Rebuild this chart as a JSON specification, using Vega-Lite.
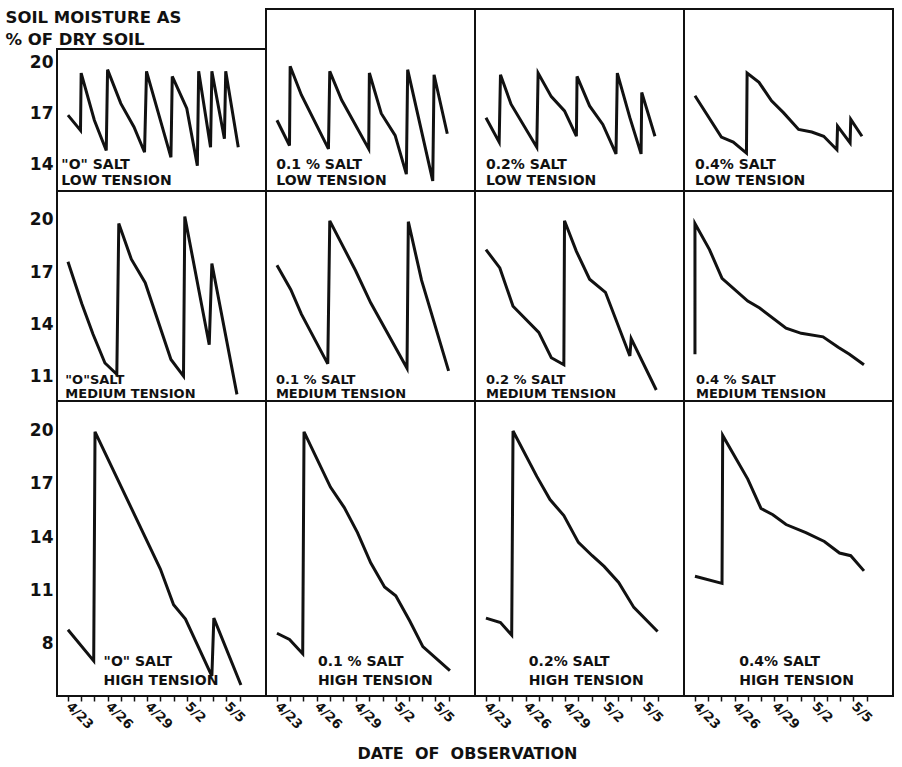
{
  "$schema": "https://vega.github.io/schema/vega-lite/v6.json",
  "padding": {"left": 5, "top": 8, "right": 4, "bottom": 2},
  "background": "white",
  "config": {
    "view": {"stroke": "#111", "strokeWidth": 2},
    "font": "DejaVu Sans",
    "line": {"strokeWidth": 3, "color": "#111"},
    "text": {"font": "DejaVu Sans", "fontWeight": "bold", "fontSize": 14, "color": "#111"},
    "axis": {"labelFont": "DejaVu Sans", "labelFontWeight": "bold", "labelColor": "#111", "grid": false, "domain": false, "ticks": false,
             "labelOverlap": false, "labelFlush": false, "labelBound": false}
  },
  "title": {"text": "DATE\u00a0\u00a0OF\u00a0\u00a0OBSERVATION", "orient": "bottom", "anchor": "middle", "frame": "bounds", "dx": 18, "fontSize": 16, "fontWeight": "bold", "font": "DejaVu Sans", "color": "#111", "offset": 14},
  "datasets": {
    "moisture": [
      {"salt": "0", "tension": "low", "seq": 1, "day": 0, "moisture": 16.9},
      {"salt": "0", "tension": "low", "seq": 2, "day": 0.95, "moisture": 16.0},
      {"salt": "0", "tension": "low", "seq": 3, "day": 1.0, "moisture": 19.4},
      {"salt": "0", "tension": "low", "seq": 4, "day": 2.0, "moisture": 16.6},
      {"salt": "0", "tension": "low", "seq": 5, "day": 2.9, "moisture": 14.8},
      {"salt": "0", "tension": "low", "seq": 6, "day": 3.0, "moisture": 19.6},
      {"salt": "0", "tension": "low", "seq": 7, "day": 4.0, "moisture": 17.6},
      {"salt": "0", "tension": "low", "seq": 8, "day": 5.0, "moisture": 16.2},
      {"salt": "0", "tension": "low", "seq": 9, "day": 5.8, "moisture": 14.7},
      {"salt": "0", "tension": "low", "seq": 10, "day": 5.95, "moisture": 19.5},
      {"salt": "0", "tension": "low", "seq": 11, "day": 7.8, "moisture": 14.4},
      {"salt": "0", "tension": "low", "seq": 12, "day": 7.9, "moisture": 19.2},
      {"salt": "0", "tension": "low", "seq": 13, "day": 9.0, "moisture": 17.3},
      {"salt": "0", "tension": "low", "seq": 14, "day": 9.8, "moisture": 13.9},
      {"salt": "0", "tension": "low", "seq": 15, "day": 9.9, "moisture": 19.5},
      {"salt": "0", "tension": "low", "seq": 16, "day": 10.8, "moisture": 15.0},
      {"salt": "0", "tension": "low", "seq": 17, "day": 10.9, "moisture": 19.5},
      {"salt": "0", "tension": "low", "seq": 18, "day": 11.85, "moisture": 15.5},
      {"salt": "0", "tension": "low", "seq": 19, "day": 11.95, "moisture": 19.5},
      {"salt": "0", "tension": "low", "seq": 20, "day": 12.9, "moisture": 15.0},

      {"salt": "0.1", "tension": "low", "seq": 1, "day": 0, "moisture": 16.6},
      {"salt": "0.1", "tension": "low", "seq": 2, "day": 0.95, "moisture": 15.1},
      {"salt": "0.1", "tension": "low", "seq": 3, "day": 1.0, "moisture": 19.8},
      {"salt": "0.1", "tension": "low", "seq": 4, "day": 1.85, "moisture": 18.1},
      {"salt": "0.1", "tension": "low", "seq": 5, "day": 3.9, "moisture": 14.9},
      {"salt": "0.1", "tension": "low", "seq": 6, "day": 4.0, "moisture": 19.5},
      {"salt": "0.1", "tension": "low", "seq": 7, "day": 4.9, "moisture": 17.8},
      {"salt": "0.1", "tension": "low", "seq": 8, "day": 6.95, "moisture": 14.9},
      {"salt": "0.1", "tension": "low", "seq": 9, "day": 7.0, "moisture": 19.4},
      {"salt": "0.1", "tension": "low", "seq": 10, "day": 7.9, "moisture": 17.0},
      {"salt": "0.1", "tension": "low", "seq": 11, "day": 8.95, "moisture": 15.7},
      {"salt": "0.1", "tension": "low", "seq": 12, "day": 9.8, "moisture": 13.4},
      {"salt": "0.1", "tension": "low", "seq": 13, "day": 9.9, "moisture": 19.6},
      {"salt": "0.1", "tension": "low", "seq": 14, "day": 11.8, "moisture": 13.0},
      {"salt": "0.1", "tension": "low", "seq": 15, "day": 11.9, "moisture": 19.3},
      {"salt": "0.1", "tension": "low", "seq": 16, "day": 12.9, "moisture": 15.8},

      {"salt": "0.2", "tension": "low", "seq": 1, "day": 0, "moisture": 16.75},
      {"salt": "0.2", "tension": "low", "seq": 2, "day": 1.0, "moisture": 15.3},
      {"salt": "0.2", "tension": "low", "seq": 3, "day": 1.1, "moisture": 19.3},
      {"salt": "0.2", "tension": "low", "seq": 4, "day": 1.9, "moisture": 17.55},
      {"salt": "0.2", "tension": "low", "seq": 5, "day": 3.85, "moisture": 15.0},
      {"salt": "0.2", "tension": "low", "seq": 6, "day": 3.95, "moisture": 19.4},
      {"salt": "0.2", "tension": "low", "seq": 7, "day": 4.95, "moisture": 18.0},
      {"salt": "0.2", "tension": "low", "seq": 8, "day": 5.95, "moisture": 17.15},
      {"salt": "0.2", "tension": "low", "seq": 9, "day": 6.85, "moisture": 15.65},
      {"salt": "0.2", "tension": "low", "seq": 10, "day": 6.9, "moisture": 19.2},
      {"salt": "0.2", "tension": "low", "seq": 11, "day": 7.85, "moisture": 17.45},
      {"salt": "0.2", "tension": "low", "seq": 12, "day": 8.85, "moisture": 16.35},
      {"salt": "0.2", "tension": "low", "seq": 13, "day": 9.85, "moisture": 14.6},
      {"salt": "0.2", "tension": "low", "seq": 14, "day": 9.95, "moisture": 19.4},
      {"salt": "0.2", "tension": "low", "seq": 15, "day": 10.9, "moisture": 16.75},
      {"salt": "0.2", "tension": "low", "seq": 16, "day": 11.75, "moisture": 14.6},
      {"salt": "0.2", "tension": "low", "seq": 17, "day": 11.8, "moisture": 18.25},
      {"salt": "0.2", "tension": "low", "seq": 18, "day": 12.8, "moisture": 15.65},

      {"salt": "0.4", "tension": "low", "seq": 1, "day": 0, "moisture": 18.05},
      {"salt": "0.4", "tension": "low", "seq": 2, "day": 2.0, "moisture": 15.6},
      {"salt": "0.4", "tension": "low", "seq": 3, "day": 2.9, "moisture": 15.3},
      {"salt": "0.4", "tension": "low", "seq": 4, "day": 3.9, "moisture": 14.65},
      {"salt": "0.4", "tension": "low", "seq": 5, "day": 3.95, "moisture": 19.4},
      {"salt": "0.4", "tension": "low", "seq": 6, "day": 4.85, "moisture": 18.85},
      {"salt": "0.4", "tension": "low", "seq": 7, "day": 5.8, "moisture": 17.75},
      {"salt": "0.4", "tension": "low", "seq": 8, "day": 6.7, "moisture": 17.05},
      {"salt": "0.4", "tension": "low", "seq": 9, "day": 7.85, "moisture": 16.05},
      {"salt": "0.4", "tension": "low", "seq": 10, "day": 8.85, "moisture": 15.9},
      {"salt": "0.4", "tension": "low", "seq": 11, "day": 9.75, "moisture": 15.65},
      {"salt": "0.4", "tension": "low", "seq": 12, "day": 10.75, "moisture": 14.85},
      {"salt": "0.4", "tension": "low", "seq": 13, "day": 10.8, "moisture": 16.25},
      {"salt": "0.4", "tension": "low", "seq": 14, "day": 11.75, "moisture": 15.25},
      {"salt": "0.4", "tension": "low", "seq": 15, "day": 11.8, "moisture": 16.65},
      {"salt": "0.4", "tension": "low", "seq": 16, "day": 12.65, "moisture": 15.65},

      {"salt": "0", "tension": "medium", "seq": 1, "day": 0, "moisture": 17.6},
      {"salt": "0", "tension": "medium", "seq": 2, "day": 1.05, "moisture": 15.2},
      {"salt": "0", "tension": "medium", "seq": 3, "day": 1.9, "moisture": 13.45},
      {"salt": "0", "tension": "medium", "seq": 4, "day": 2.8, "moisture": 11.8},
      {"salt": "0", "tension": "medium", "seq": 5, "day": 3.7, "moisture": 11.15},
      {"salt": "0", "tension": "medium", "seq": 6, "day": 3.85, "moisture": 19.8},
      {"salt": "0", "tension": "medium", "seq": 7, "day": 4.8, "moisture": 17.75},
      {"salt": "0", "tension": "medium", "seq": 8, "day": 5.85, "moisture": 16.4},
      {"salt": "0", "tension": "medium", "seq": 9, "day": 7.8, "moisture": 12.0},
      {"salt": "0", "tension": "medium", "seq": 10, "day": 8.75, "moisture": 11.05},
      {"salt": "0", "tension": "medium", "seq": 11, "day": 8.85, "moisture": 20.2},
      {"salt": "0", "tension": "medium", "seq": 12, "day": 10.7, "moisture": 12.85},
      {"salt": "0", "tension": "medium", "seq": 13, "day": 10.9, "moisture": 17.5},
      {"salt": "0", "tension": "medium", "seq": 14, "day": 12.8, "moisture": 10.0},

      {"salt": "0.1", "tension": "medium", "seq": 1, "day": 0, "moisture": 17.4},
      {"salt": "0.1", "tension": "medium", "seq": 2, "day": 1.05, "moisture": 16.0},
      {"salt": "0.1", "tension": "medium", "seq": 3, "day": 1.85, "moisture": 14.6},
      {"salt": "0.1", "tension": "medium", "seq": 4, "day": 3.85, "moisture": 11.75},
      {"salt": "0.1", "tension": "medium", "seq": 5, "day": 4.0, "moisture": 19.95},
      {"salt": "0.1", "tension": "medium", "seq": 6, "day": 5.95, "moisture": 17.1},
      {"salt": "0.1", "tension": "medium", "seq": 7, "day": 7.1, "moisture": 15.25},
      {"salt": "0.1", "tension": "medium", "seq": 8, "day": 9.85, "moisture": 11.5},
      {"salt": "0.1", "tension": "medium", "seq": 9, "day": 9.95, "moisture": 19.9},
      {"salt": "0.1", "tension": "medium", "seq": 10, "day": 10.95, "moisture": 16.55},
      {"salt": "0.1", "tension": "medium", "seq": 11, "day": 13.0, "moisture": 11.35},

      {"salt": "0.2", "tension": "medium", "seq": 1, "day": 0, "moisture": 18.3},
      {"salt": "0.2", "tension": "medium", "seq": 2, "day": 1.05, "moisture": 17.25},
      {"salt": "0.2", "tension": "medium", "seq": 3, "day": 2.05, "moisture": 15.05},
      {"salt": "0.2", "tension": "medium", "seq": 4, "day": 4.0, "moisture": 13.55},
      {"salt": "0.2", "tension": "medium", "seq": 5, "day": 4.95, "moisture": 12.1},
      {"salt": "0.2", "tension": "medium", "seq": 6, "day": 5.9, "moisture": 11.7},
      {"salt": "0.2", "tension": "medium", "seq": 7, "day": 5.95, "moisture": 19.95},
      {"salt": "0.2", "tension": "medium", "seq": 8, "day": 6.85, "moisture": 18.2},
      {"salt": "0.2", "tension": "medium", "seq": 9, "day": 7.85, "moisture": 16.6},
      {"salt": "0.2", "tension": "medium", "seq": 10, "day": 9.05, "moisture": 15.85},
      {"salt": "0.2", "tension": "medium", "seq": 11, "day": 10.9, "moisture": 12.2},
      {"salt": "0.2", "tension": "medium", "seq": 12, "day": 11.0, "moisture": 13.2},
      {"salt": "0.2", "tension": "medium", "seq": 13, "day": 12.9, "moisture": 10.25},

      {"salt": "0.4", "tension": "medium", "seq": 1, "day": 0, "moisture": 12.3},
      {"salt": "0.4", "tension": "medium", "seq": 2, "day": 0, "moisture": 19.8},
      {"salt": "0.4", "tension": "medium", "seq": 3, "day": 1.1, "moisture": 18.3},
      {"salt": "0.4", "tension": "medium", "seq": 4, "day": 2.05, "moisture": 16.65},
      {"salt": "0.4", "tension": "medium", "seq": 5, "day": 4.0, "moisture": 15.35},
      {"salt": "0.4", "tension": "medium", "seq": 6, "day": 4.9, "moisture": 14.95},
      {"salt": "0.4", "tension": "medium", "seq": 7, "day": 6.9, "moisture": 13.8},
      {"salt": "0.4", "tension": "medium", "seq": 8, "day": 8.05, "moisture": 13.5},
      {"salt": "0.4", "tension": "medium", "seq": 9, "day": 9.7, "moisture": 13.3},
      {"salt": "0.4", "tension": "medium", "seq": 10, "day": 10.85, "moisture": 12.7},
      {"salt": "0.4", "tension": "medium", "seq": 11, "day": 11.7, "moisture": 12.3},
      {"salt": "0.4", "tension": "medium", "seq": 12, "day": 12.8, "moisture": 11.7},

      {"salt": "0", "tension": "high", "seq": 1, "day": 0, "moisture": 8.8},
      {"salt": "0", "tension": "high", "seq": 2, "day": 1.95, "moisture": 7.05},
      {"salt": "0", "tension": "high", "seq": 3, "day": 2.05, "moisture": 19.9},
      {"salt": "0", "tension": "high", "seq": 4, "day": 7.0, "moisture": 12.2},
      {"salt": "0", "tension": "high", "seq": 5, "day": 8.0, "moisture": 10.2},
      {"salt": "0", "tension": "high", "seq": 6, "day": 8.9, "moisture": 9.4},
      {"salt": "0", "tension": "high", "seq": 7, "day": 10.9, "moisture": 6.2},
      {"salt": "0", "tension": "high", "seq": 8, "day": 11.05, "moisture": 9.45},
      {"salt": "0", "tension": "high", "seq": 9, "day": 13.1, "moisture": 5.7},

      {"salt": "0.1", "tension": "high", "seq": 1, "day": 0, "moisture": 8.6},
      {"salt": "0.1", "tension": "high", "seq": 2, "day": 0.95, "moisture": 8.25},
      {"salt": "0.1", "tension": "high", "seq": 3, "day": 1.95, "moisture": 7.45},
      {"salt": "0.1", "tension": "high", "seq": 4, "day": 2.05, "moisture": 19.9},
      {"salt": "0.1", "tension": "high", "seq": 5, "day": 4.05, "moisture": 16.8},
      {"salt": "0.1", "tension": "high", "seq": 6, "day": 5.1, "moisture": 15.65},
      {"salt": "0.1", "tension": "high", "seq": 7, "day": 6.1, "moisture": 14.25},
      {"salt": "0.1", "tension": "high", "seq": 8, "day": 7.1, "moisture": 12.55},
      {"salt": "0.1", "tension": "high", "seq": 9, "day": 8.15, "moisture": 11.2},
      {"salt": "0.1", "tension": "high", "seq": 10, "day": 9.0, "moisture": 10.7},
      {"salt": "0.1", "tension": "high", "seq": 11, "day": 10.05, "moisture": 9.3},
      {"salt": "0.1", "tension": "high", "seq": 12, "day": 11.05, "moisture": 7.85},
      {"salt": "0.1", "tension": "high", "seq": 13, "day": 13.1, "moisture": 6.5},

      {"salt": "0.2", "tension": "high", "seq": 1, "day": 0, "moisture": 9.45},
      {"salt": "0.2", "tension": "high", "seq": 2, "day": 1.1, "moisture": 9.2},
      {"salt": "0.2", "tension": "high", "seq": 3, "day": 1.95, "moisture": 8.5},
      {"salt": "0.2", "tension": "high", "seq": 4, "day": 2.05, "moisture": 19.95},
      {"salt": "0.2", "tension": "high", "seq": 5, "day": 3.85, "moisture": 17.4},
      {"salt": "0.2", "tension": "high", "seq": 6, "day": 4.85, "moisture": 16.1},
      {"salt": "0.2", "tension": "high", "seq": 7, "day": 5.9, "moisture": 15.2},
      {"salt": "0.2", "tension": "high", "seq": 8, "day": 7.0, "moisture": 13.7},
      {"salt": "0.2", "tension": "high", "seq": 9, "day": 8.05, "moisture": 12.95},
      {"salt": "0.2", "tension": "high", "seq": 10, "day": 8.95, "moisture": 12.35},
      {"salt": "0.2", "tension": "high", "seq": 11, "day": 10.05, "moisture": 11.45},
      {"salt": "0.2", "tension": "high", "seq": 12, "day": 11.2, "moisture": 10.05},
      {"salt": "0.2", "tension": "high", "seq": 13, "day": 13.0, "moisture": 8.7},

      {"salt": "0.4", "tension": "high", "seq": 1, "day": 0, "moisture": 11.8},
      {"salt": "0.4", "tension": "high", "seq": 2, "day": 2.05, "moisture": 11.4},
      {"salt": "0.4", "tension": "high", "seq": 3, "day": 2.1, "moisture": 19.7},
      {"salt": "0.4", "tension": "high", "seq": 4, "day": 4.0, "moisture": 17.25},
      {"salt": "0.4", "tension": "high", "seq": 5, "day": 5.0, "moisture": 15.6},
      {"salt": "0.4", "tension": "high", "seq": 6, "day": 5.9, "moisture": 15.25},
      {"salt": "0.4", "tension": "high", "seq": 7, "day": 6.9, "moisture": 14.7},
      {"salt": "0.4", "tension": "high", "seq": 8, "day": 8.4, "moisture": 14.25},
      {"salt": "0.4", "tension": "high", "seq": 9, "day": 9.8, "moisture": 13.75},
      {"salt": "0.4", "tension": "high", "seq": 10, "day": 10.95, "moisture": 13.1},
      {"salt": "0.4", "tension": "high", "seq": 11, "day": 11.8, "moisture": 12.95},
      {"salt": "0.4", "tension": "high", "seq": 12, "day": 12.8, "moisture": 12.1}
    ]
  },
  "columns": 4,
  "spacing": 0,
  "bounds": "flush",
  "concat": [
    {
      "width": 209, "height": 182,
      "view": {"stroke": null},
      "layer": [
        {"data": {"name": "moisture"}, "transform": [{"filter": "datum.salt === '0' && datum.tension === 'low'"}],
         "mark": "line",
         "encoding": {
           "x": {"field": "day", "type": "quantitative", "scale": {"domain": [-0.83, 15], "nice": false, "zero": false}, "axis": null},
           "y": {"field": "moisture", "type": "quantitative", "scale": {"domain": [12.4, 23.2], "nice": false, "zero": false},
                 "axis": {"values": [14, 17, 20], "labelFontSize": 17, "labelPadding": 4,
                          "title": ["SOIL MOISTURE AS", "% OF DRY SOIL"], "titleAngle": 0, "titleAlign": "left", "titleBaseline": "alphabetic",
                          "titleX": -52, "titleY": 13, "titleFontSize": 16.5, "titleFontWeight": "bold", "titleFont": "DejaVu Sans", "titleColor": "#111", "titleLineHeight": 22}},
           "order": {"field": "seq"}}},
        {"data": {"values": [{"panel": "0% salt, low tension"}]},
         "mark": {"type": "rect", "fill": "white", "fillOpacity": 0, "stroke": "#111", "strokeWidth": 2},
         "encoding": {"x": {"datum": -0.83}, "x2": {"datum": 15}, "y": {"datum": 12.4}, "y2": {"datum": 20.83}}},
        {"data": {"values": [{"label": "\"O\" SALT\nLOW TENSION"}]},
         "mark": {"type": "text", "align": "left", "baseline": "alphabetic", "lineBreak": "\n", "lineHeight": 16},
         "encoding": {"x": {"datum": -0.5}, "y": {"datum": 13.7}, "text": {"field": "label", "type": "nominal"}}}
      ]
    },
    {
      "width": 209, "height": 182,
      "layer": [
        {"data": {"name": "moisture"}, "transform": [{"filter": "datum.salt === '0.1' && datum.tension === 'low'"}],
         "mark": "line",
         "encoding": {
           "x": {"field": "day", "type": "quantitative", "scale": {"domain": [-0.83, 15], "nice": false, "zero": false}, "axis": null},
           "y": {"field": "moisture", "type": "quantitative", "scale": {"domain": [12.4, 23.2], "nice": false, "zero": false}, "axis": null},
           "order": {"field": "seq"}}},
        {"data": {"values": [{"label": "0.1 % SALT\nLOW TENSION"}]},
         "mark": {"type": "text", "align": "left", "baseline": "alphabetic", "lineBreak": "\n", "lineHeight": 16},
         "encoding": {"x": {"datum": -0.05}, "y": {"datum": 13.7}, "text": {"field": "label", "type": "nominal"}}}
      ]
    },
    {
      "width": 209, "height": 182,
      "layer": [
        {"data": {"name": "moisture"}, "transform": [{"filter": "datum.salt === '0.2' && datum.tension === 'low'"}],
         "mark": "line",
         "encoding": {
           "x": {"field": "day", "type": "quantitative", "scale": {"domain": [-0.83, 15], "nice": false, "zero": false}, "axis": null},
           "y": {"field": "moisture", "type": "quantitative", "scale": {"domain": [12.4, 23.2], "nice": false, "zero": false}, "axis": null},
           "order": {"field": "seq"}}},
        {"data": {"values": [{"label": "0.2% SALT\nLOW TENSION"}]},
         "mark": {"type": "text", "align": "left", "baseline": "alphabetic", "lineBreak": "\n", "lineHeight": 16},
         "encoding": {"x": {"datum": 0}, "y": {"datum": 13.7}, "text": {"field": "label", "type": "nominal"}}}
      ]
    },
    {
      "width": 209, "height": 182,
      "layer": [
        {"data": {"name": "moisture"}, "transform": [{"filter": "datum.salt === '0.4' && datum.tension === 'low'"}],
         "mark": "line",
         "encoding": {
           "x": {"field": "day", "type": "quantitative", "scale": {"domain": [-0.83, 15], "nice": false, "zero": false}, "axis": null},
           "y": {"field": "moisture", "type": "quantitative", "scale": {"domain": [12.4, 23.2], "nice": false, "zero": false}, "axis": null},
           "order": {"field": "seq"}}},
        {"data": {"values": [{"label": "0.4% SALT\nLOW TENSION"}]},
         "mark": {"type": "text", "align": "left", "baseline": "alphabetic", "lineBreak": "\n", "lineHeight": 16},
         "encoding": {"x": {"datum": 0}, "y": {"datum": 13.7}, "text": {"field": "label", "type": "nominal"}}}
      ]
    },

    {
      "width": 209, "height": 210,
      "layer": [
        {"data": {"name": "moisture"}, "transform": [{"filter": "datum.salt === '0' && datum.tension === 'medium'"}],
         "mark": "line",
         "encoding": {
           "x": {"field": "day", "type": "quantitative", "scale": {"domain": [-0.83, 15], "nice": false, "zero": false}, "axis": null},
           "y": {"field": "moisture", "type": "quantitative", "scale": {"domain": [9.62, 21.66], "nice": false, "zero": false},
                 "axis": {"values": [11, 14, 17, 20], "labelFontSize": 17, "labelPadding": 4, "title": null}},
           "order": {"field": "seq"}}},
        {"data": {"values": [{"label": "\"O\"SALT\nMEDIUM TENSION"}]},
         "mark": {"type": "text", "align": "left", "baseline": "alphabetic", "lineBreak": "\n", "lineHeight": 14, "fontSize": 13},
         "encoding": {"x": {"datum": -0.2}, "y": {"datum": 10.57}, "text": {"field": "label", "type": "nominal"}}}
      ]
    },
    {
      "width": 209, "height": 210,
      "layer": [
        {"data": {"name": "moisture"}, "transform": [{"filter": "datum.salt === '0.1' && datum.tension === 'medium'"}],
         "mark": "line",
         "encoding": {
           "x": {"field": "day", "type": "quantitative", "scale": {"domain": [-0.83, 15], "nice": false, "zero": false}, "axis": null},
           "y": {"field": "moisture", "type": "quantitative", "scale": {"domain": [9.62, 21.66], "nice": false, "zero": false}, "axis": null},
           "order": {"field": "seq"}}},
        {"data": {"values": [{"label": "0.1 % SALT\nMEDIUM TENSION"}]},
         "mark": {"type": "text", "align": "left", "baseline": "alphabetic", "lineBreak": "\n", "lineHeight": 14, "fontSize": 13},
         "encoding": {"x": {"datum": -0.08}, "y": {"datum": 10.57}, "text": {"field": "label", "type": "nominal"}}}
      ]
    },
    {
      "width": 209, "height": 210,
      "layer": [
        {"data": {"name": "moisture"}, "transform": [{"filter": "datum.salt === '0.2' && datum.tension === 'medium'"}],
         "mark": "line",
         "encoding": {
           "x": {"field": "day", "type": "quantitative", "scale": {"domain": [-0.83, 15], "nice": false, "zero": false}, "axis": null},
           "y": {"field": "moisture", "type": "quantitative", "scale": {"domain": [9.62, 21.66], "nice": false, "zero": false}, "axis": null},
           "order": {"field": "seq"}}},
        {"data": {"values": [{"label": "0.2 % SALT\nMEDIUM TENSION"}]},
         "mark": {"type": "text", "align": "left", "baseline": "alphabetic", "lineBreak": "\n", "lineHeight": 14, "fontSize": 13},
         "encoding": {"x": {"datum": 0}, "y": {"datum": 10.57}, "text": {"field": "label", "type": "nominal"}}}
      ]
    },
    {
      "width": 209, "height": 210,
      "layer": [
        {"data": {"name": "moisture"}, "transform": [{"filter": "datum.salt === '0.4' && datum.tension === 'medium'"}],
         "mark": "line",
         "encoding": {
           "x": {"field": "day", "type": "quantitative", "scale": {"domain": [-0.83, 15], "nice": false, "zero": false}, "axis": null},
           "y": {"field": "moisture", "type": "quantitative", "scale": {"domain": [9.62, 21.66], "nice": false, "zero": false}, "axis": null},
           "order": {"field": "seq"}}},
        {"data": {"values": [{"label": "0.4 % SALT\nMEDIUM TENSION"}]},
         "mark": {"type": "text", "align": "left", "baseline": "alphabetic", "lineBreak": "\n", "lineHeight": 14, "fontSize": 13},
         "encoding": {"x": {"datum": 0.08}, "y": {"datum": 10.57}, "text": {"field": "label", "type": "nominal"}}}
      ]
    },

    {
      "width": 209, "height": 295,
      "resolve": {"axis": {"x": "independent"}},
      "layer": [
        {"data": {"name": "moisture"}, "transform": [{"filter": "datum.salt === '0' && datum.tension === 'high'"}],
         "mark": "line",
         "encoding": {
           "x": {"field": "day", "type": "quantitative", "scale": {"domain": [-0.83, 15], "nice": false, "zero": false},
                 "axis": {"values": [0,1,2,3,4,5,6,7,8,9,10,11,12,13], "title": null, "ticks": true, "tickSize": 5, "tickWidth": 1.5, "tickColor": "#111",
                          "labelExpr": "datum.value % 3 == 0 && datum.value <= 12 ? (datum.value < 8 ? '4/' + (23 + datum.value) : '5/' + (datum.value - 7)) : ''",
                          "labelAngle": 45, "labelAlign": "left", "labelBaseline": "middle", "labelFontSize": 13, "labelPadding": 3,
                          "labelOverlap": false, "labelFlush": false, "labelBound": false}},
           "y": {"field": "moisture", "type": "quantitative", "scale": {"domain": [5.08, 21.63], "nice": false, "zero": false},
                 "axis": {"values": [8, 11, 14, 17, 20], "labelFontSize": 17, "labelPadding": 4, "title": null}},
           "order": {"field": "seq"}}},
        {"data": {"values": [{"label": "\"O\" SALT\nHIGH TENSION"}]},
         "mark": {"type": "text", "align": "left", "baseline": "alphabetic", "lineBreak": "\n", "lineHeight": 19},
         "encoding": {"x": {"datum": 2.7, "axis": null}, "y": {"datum": 6.76}, "text": {"field": "label", "type": "nominal"}}}
      ]
    },
    {
      "width": 209, "height": 295,
      "resolve": {"axis": {"x": "independent"}},
      "layer": [
        {"data": {"name": "moisture"}, "transform": [{"filter": "datum.salt === '0.1' && datum.tension === 'high'"}],
         "mark": "line",
         "encoding": {
           "x": {"field": "day", "type": "quantitative", "scale": {"domain": [-0.83, 15], "nice": false, "zero": false},
                 "axis": {"values": [0,1,2,3,4,5,6,7,8,9,10,11,12,13], "title": null, "ticks": true, "tickSize": 5, "tickWidth": 1.5, "tickColor": "#111",
                          "labelExpr": "datum.value % 3 == 0 && datum.value <= 12 ? (datum.value < 8 ? '4/' + (23 + datum.value) : '5/' + (datum.value - 7)) : ''",
                          "labelAngle": 45, "labelAlign": "left", "labelBaseline": "middle", "labelFontSize": 13, "labelPadding": 3,
                          "labelOverlap": false, "labelFlush": false, "labelBound": false}},
           "y": {"field": "moisture", "type": "quantitative", "scale": {"domain": [5.08, 21.63], "nice": false, "zero": false}, "axis": null},
           "order": {"field": "seq"}}},
        {"data": {"values": [{"label": "0.1 % SALT\nHIGH TENSION"}]},
         "mark": {"type": "text", "align": "left", "baseline": "alphabetic", "lineBreak": "\n", "lineHeight": 19},
         "encoding": {"x": {"datum": 3.1, "axis": null}, "y": {"datum": 6.76}, "text": {"field": "label", "type": "nominal"}}}
      ]
    },
    {
      "width": 209, "height": 295,
      "resolve": {"axis": {"x": "independent"}},
      "layer": [
        {"data": {"name": "moisture"}, "transform": [{"filter": "datum.salt === '0.2' && datum.tension === 'high'"}],
         "mark": "line",
         "encoding": {
           "x": {"field": "day", "type": "quantitative", "scale": {"domain": [-0.83, 15], "nice": false, "zero": false},
                 "axis": {"values": [0,1,2,3,4,5,6,7,8,9,10,11,12,13], "title": null, "ticks": true, "tickSize": 5, "tickWidth": 1.5, "tickColor": "#111",
                          "labelExpr": "datum.value % 3 == 0 && datum.value <= 12 ? (datum.value < 8 ? '4/' + (23 + datum.value) : '5/' + (datum.value - 7)) : ''",
                          "labelAngle": 45, "labelAlign": "left", "labelBaseline": "middle", "labelFontSize": 13, "labelPadding": 3,
                          "labelOverlap": false, "labelFlush": false, "labelBound": false}},
           "y": {"field": "moisture", "type": "quantitative", "scale": {"domain": [5.08, 21.63], "nice": false, "zero": false}, "axis": null},
           "order": {"field": "seq"}}},
        {"data": {"values": [{"label": "0.2% SALT\nHIGH TENSION"}]},
         "mark": {"type": "text", "align": "left", "baseline": "alphabetic", "lineBreak": "\n", "lineHeight": 19},
         "encoding": {"x": {"datum": 3.25, "axis": null}, "y": {"datum": 6.76}, "text": {"field": "label", "type": "nominal"}}}
      ]
    },
    {
      "width": 209, "height": 295,
      "resolve": {"axis": {"x": "independent"}},
      "layer": [
        {"data": {"name": "moisture"}, "transform": [{"filter": "datum.salt === '0.4' && datum.tension === 'high'"}],
         "mark": "line",
         "encoding": {
           "x": {"field": "day", "type": "quantitative", "scale": {"domain": [-0.83, 15], "nice": false, "zero": false},
                 "axis": {"values": [0,1,2,3,4,5,6,7,8,9,10,11,12,13], "title": null, "ticks": true, "tickSize": 5, "tickWidth": 1.5, "tickColor": "#111",
                          "labelExpr": "datum.value % 3 == 0 && datum.value <= 12 ? (datum.value < 8 ? '4/' + (23 + datum.value) : '5/' + (datum.value - 7)) : ''",
                          "labelAngle": 45, "labelAlign": "left", "labelBaseline": "middle", "labelFontSize": 13, "labelPadding": 3,
                          "labelOverlap": false, "labelFlush": false, "labelBound": false}},
           "y": {"field": "moisture", "type": "quantitative", "scale": {"domain": [5.08, 21.63], "nice": false, "zero": false}, "axis": null},
           "order": {"field": "seq"}}},
        {"data": {"values": [{"label": "0.4% SALT\nHIGH TENSION"}]},
         "mark": {"type": "text", "align": "left", "baseline": "alphabetic", "lineBreak": "\n", "lineHeight": 19},
         "encoding": {"x": {"datum": 3.35, "axis": null}, "y": {"datum": 6.76}, "text": {"field": "label", "type": "nominal"}}}
      ]
    }
  ]
}
